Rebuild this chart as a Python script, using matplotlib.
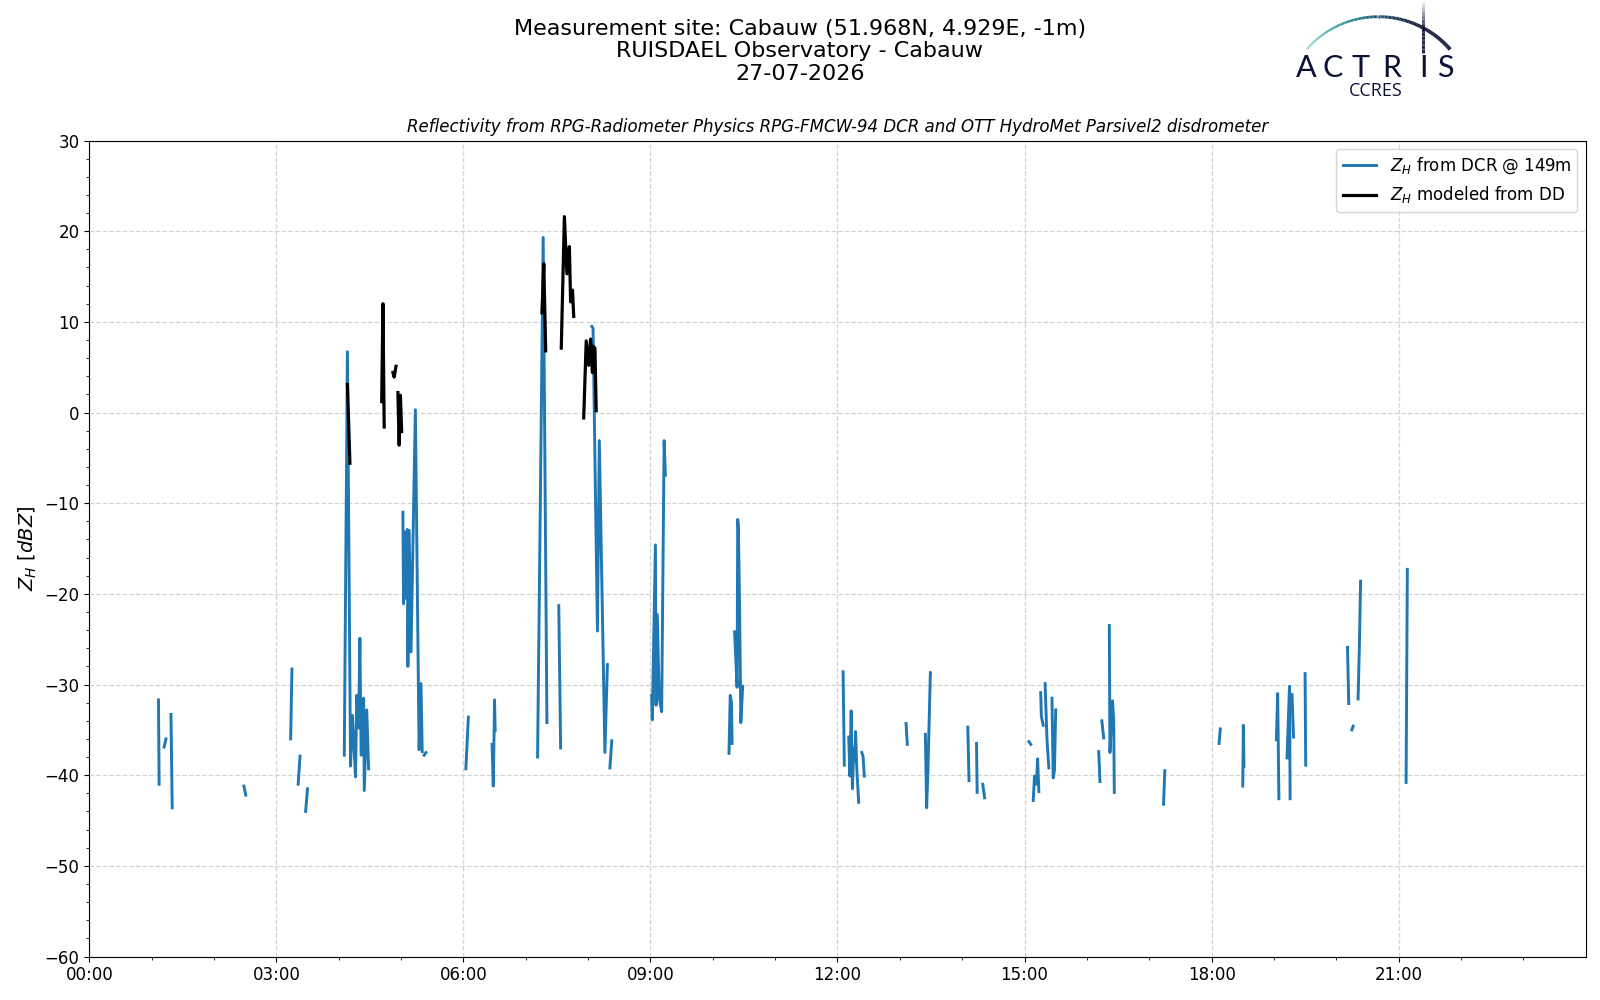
import matplotlib
matplotlib.use("Agg")
import matplotlib.pyplot as plt
import numpy as np
from matplotlib.collections import LineCollection
from matplotlib.colors import LinearSegmentedColormap
from matplotlib.ticker import MultipleLocator, FuncFormatter

nan = np.nan

# Z_H from the cloud radar (hours of day, dBZ), nan = gap
dcr_hours = [1.11, 1.12, nan, 1.20, 1.23, nan, 1.31, 1.33, nan, 2.48, 2.51, nan,
             3.23, 3.25, nan, 3.35, 3.38, nan, 3.47, 3.50, nan,
             4.09, 4.14, 4.19, 4.22, 4.27, 4.29, 4.32, 4.34, 4.36, 4.40, 4.41, 4.45, 4.48, nan,
             5.03, 5.04, 5.06, 5.08, 5.10, 5.11, 5.13, 5.16, 5.23, 5.29, 5.32, 5.34, nan,
             5.37, 5.40, nan, 6.04, 6.08, nan, 6.46, 6.48, 6.50, 6.51, nan,
             7.19, 7.28, 7.34, nan, 7.53, 7.56, nan,
             8.06, 8.08, 8.15, 8.18, 8.27, 8.31, nan, 8.35, 8.38, nan,
             9.02, 9.03, 9.08, 9.09, 9.11, 9.14, 9.18, 9.22, 9.24, nan,
             10.26, 10.28, 10.30, 10.31, nan,
             10.35, 10.39, 10.40, 10.41, 10.43, 10.45, 10.48, nan,
             12.09, 12.11, nan, 12.18, 12.20, 12.22, 12.24, 12.26, 12.28, 12.29, 12.31, 12.34, nan,
             12.39, 12.41, 12.43, nan, 13.10, 13.12, nan, 13.41, 13.43, 13.45, 13.49, nan,
             14.09, 14.11, nan, 14.23, 14.24, nan, 14.33, 14.36, nan,
             15.07, 15.10, nan, 15.14, 15.16, 15.19, 15.21, 15.23, nan,
             15.26, 15.27, 15.30, nan, 15.33, 15.36, 15.39, nan, 15.44, 15.46, 15.48, 15.50, nan,
             16.19, 16.21, nan, 16.24, 16.27, nan, 16.36, 16.37, 16.41, 16.43, 16.44, nan,
             17.23, 17.25, nan, 18.12, 18.14, nan, 18.50, 18.51, 18.52, nan,
             19.04, 19.06, 19.08, nan, 19.21, 19.25, 19.26, nan, 19.29, 19.315, nan,
             19.50, 19.51, nan, 20.18, 20.20, nan, 20.25, 20.27, nan, 20.35, 20.37, 20.39, nan,
             21.12, 21.14]
dcr_zh = [-31.7, -41.0, nan, -36.9, -36.0, nan, -33.3, -43.6, nan, -41.2, -42.2, nan,
          -36.0, -28.3, nan, -41.0, -37.9, nan, -44.0, -41.5, nan,
          -37.8, 6.7, -39.0, -33.4, -40.2, -31.2, -34.8, -24.9, -37.8, -31.5, -41.7, -32.8, -39.3, nan,
          -11.0, -21.1, -13.2, -20.5, -12.9, -28.0, -13.0, -26.4, 0.3, -37.2, -29.9, -37.4, nan,
          -37.8, -37.5, nan, -39.3, -33.6, nan, -36.6, -41.2, -31.7, -35.1, nan,
          -38.0, 19.3, -34.2, nan, -21.3, -37.0, nan,
          9.5, 9.3, -24.1, -3.1, -37.5, -27.8, nan, -39.2, -36.2, nan,
          -31.2, -33.9, -14.6, -32.3, -22.3, -31.4, -33.0, -3.1, -6.9, nan,
          -37.6, -31.2, -32.0, -36.5, nan,
          -24.2, -30.3, -11.8, -12.5, -21.4, -34.2, -30.2, nan,
          -28.6, -38.9, nan, -35.8, -40.1, -32.9, -41.5, -37.0, -38.5, -35.2, -39.3, -43.0, nan,
          -37.5, -37.9, -40.1, nan, -34.3, -36.6, nan, -35.5, -43.6, -39.7, -28.7, nan,
          -34.7, -40.6, nan, -36.5, -41.9, nan, -41.0, -42.5, nan,
          -36.3, -36.6, nan, -42.8, -40.1, -41.0, -38.2, -41.8, nan,
          -30.9, -33.5, -34.5, nan, -29.9, -36.0, -39.2, nan, -31.5, -40.3, -39.5, -32.8, nan,
          -37.4, -40.7, nan, -34.0, -35.9, nan, -23.5, -37.5, -31.8, -33.8, -41.9, nan,
          -43.2, -39.5, nan, -36.5, -34.9, nan, -41.2, -34.5, -39.0, nan,
          -36.1, -31.0, -42.6, nan, -38.1, -30.2, -42.6, nan, -31.1, -35.8, nan,
          -28.8, -38.9, nan, -25.9, -32.1, nan, -35.0, -34.6, nan, -31.6, -26.0, -18.6, nan,
          -40.8, -17.3]

# Z_H modeled from the disdrometer
dd_hours = [4.14, 4.18, nan, 4.69, 4.71, 4.73, nan, 4.87, 4.89, 4.92, nan,
            4.95, 4.97, 4.99, 5.01, nan, 7.26, 7.29, 7.32, nan,
            7.57, 7.62, 7.66, 7.70, 7.72, 7.75, 7.77, nan,
            7.93, 7.97, 8.01, 8.04, 8.07, 8.08, 8.11, 8.13]
dd_zh = [3.1, -5.6, nan, 1.2, 12.0, -1.6, nan, 4.4, 3.9, 5.1, nan,
         2.2, -3.6, 1.9, -2.1, nan, 11.0, 16.4, 6.8, nan,
         7.1, 21.6, 15.3, 18.3, 12.2, 13.5, 10.6, nan,
         -0.6, 7.9, 5.2, 8.1, 4.4, 7.3, 7.1, 0.2]

title_lines = ["Measurement site: Cabauw (51.968N, 4.929E, -1m)",
               "RUISDAEL Observatory - Cabauw",
               "27-07-2026"]
subtitle = ("Reflectivity from RPG-Radiometer Physics RPG-FMCW-94 DCR and "
            "OTT HydroMet Parsivel2 disdrometer")

fig = plt.figure(figsize=(16, 10), dpi=100)
ax = fig.add_axes([0.0558, 0.0435, 0.9352, 0.816])

ax.plot(dcr_hours, dcr_zh, color="#1f77b4", lw=2.1, label="$Z_H$ from DCR @ 149m")
ax.plot(dd_hours, dd_zh, color="black", lw=2.3, label="$Z_H$ modeled from DD")

ax.set_xlim(0, 23.999)
ax.set_ylim(-60, 30)
ax.xaxis.set_major_locator(MultipleLocator(3))
ax.xaxis.set_minor_locator(MultipleLocator(1))
ax.xaxis.set_major_formatter(FuncFormatter(lambda v, p: "%02d:00" % int(round(v))))
ax.yaxis.set_major_locator(MultipleLocator(10))
ax.yaxis.set_minor_locator(MultipleLocator(2))
ax.tick_params(labelsize=12)
ax.grid(True, which="major", ls="--", color="lightgray", lw=0.9)
ax.set_ylabel("$Z_H$ [$dBZ$]", fontsize=14)
ax.set_title(subtitle, fontsize=12, style="italic", pad=6)
ax.legend(loc="upper right", fontsize=12)

ys = [0.9715, 0.949, 0.9256]
for t, y in zip(title_lines, ys):
    fig.text(0.5, y, t, ha="center", va="center", fontsize=16)

# ACTRIS logo drawn in pixel coordinates
lg = fig.add_axes([1290 / 1600, 1 - 100 / 1000, 180 / 1600, 100 / 1000])
lg.set_xlim(1290, 1470)
lg.set_ylim(100, 0)
lg.axis("off")
ang = np.linspace(np.radians(139), np.radians(41), 120)
ax_x = 1378.4 + 95.1 * np.cos(ang)
ax_y = 111.8 - 95.1 * np.sin(ang)
pts = np.column_stack([ax_x, ax_y]).reshape(-1, 1, 2)
segs = np.concatenate([pts[:-1], pts[1:]], axis=1)
cmap = LinearSegmentedColormap.from_list("actris", ["#8fd8d2", "#2f9aa2", "#1a4f6e", "#0d1035", "#0d1035"])
lc = LineCollection(segs, cmap=cmap, linewidths=np.linspace(1.3, 2.8, len(segs)))
lc.set_array(np.linspace(0, 1, len(segs)))
lg.add_collection(lc)
vy = np.linspace(2, 53, 40)
vpts = np.column_stack([np.full_like(vy, 1423), vy]).reshape(-1, 1, 2)
vsegs = np.concatenate([vpts[:-1], vpts[1:]], axis=1)
vcm = LinearSegmentedColormap.from_list("v", ["#e6e6ee", "#0d1035", "#0d1035"])
vlc = LineCollection(vsegs, cmap=vcm, linewidths=2.2)
vlc.set_array(np.linspace(0, 1, len(vsegs)))
lg.add_collection(vlc)
for letter, lx in zip("ACTRIS", [1306, 1333, 1361, 1392, 1423, 1445]):
    lg.text(lx, 68, letter, ha="center", va="center", fontsize=22,
            color="#0d1035", family="Lato")
lg.text(1376, 91.5, "CCRES", ha="center", va="center", fontsize=13,
        color="#0d1035", family="Open Sans")

fig.savefig("out.png", dpi=100)
